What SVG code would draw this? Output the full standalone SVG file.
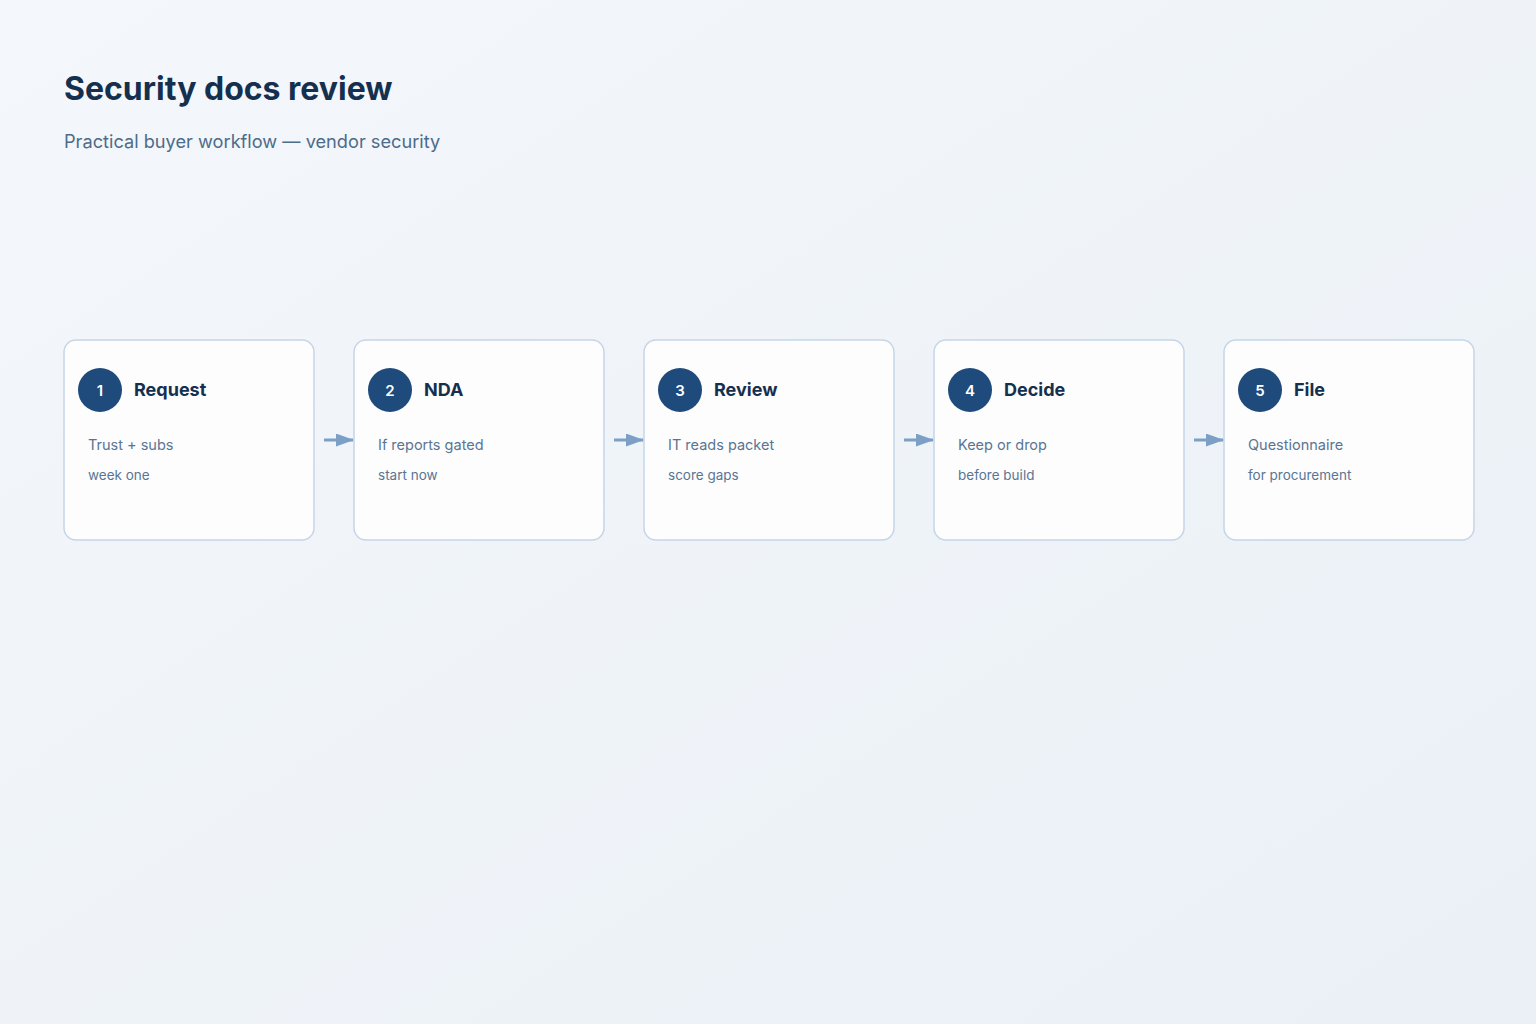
<svg xmlns="http://www.w3.org/2000/svg" width="1536" height="1024" viewBox="0 0 1536 1024">
<defs>
<linearGradient id="bg" x1="0" y1="0" x2="1" y2="1">
<stop offset="0" stop-color="#f4f7fb"/>
<stop offset="1" stop-color="#eaf0f6"/>
</linearGradient>
<marker id="ah" viewBox="0 0 18 13" refX="17" refY="6.5" markerWidth="18" markerHeight="13" markerUnits="userSpaceOnUse" orient="auto">
<path d="M0,0 L18,6.5 L0,13 z" fill="#7b9fc5"/>
</marker>
<style>
.card{fill:#fdfdfe;stroke:#c5d5e8;stroke-width:1.5}
.badge{fill:#1e4a7c}
.num{font-family:Inter,"Liberation Sans",sans-serif;font-size:15px;font-weight:600;fill:#ffffff;text-anchor:middle}
.ttl{font-family:Inter,"Liberation Sans",sans-serif;font-size:18px;font-weight:700;fill:#15304f}
.l1{font-family:Inter,"Liberation Sans",sans-serif;font-size:14.5px;fill:#5a7593}
.l2{font-family:Inter,"Liberation Sans",sans-serif;font-size:13.5px;fill:#5a7593}
.conn{stroke:#7b9fc5;stroke-width:3;fill:none}
</style>
</defs>
<rect width="1536" height="1024" fill="url(#bg)"/>
<text x="64" y="100" font-family="Inter,'Liberation Sans',sans-serif" font-size="32" font-weight="700" fill="#15304f">Security docs review</text>
<text x="64" y="148" font-family="Inter,'Liberation Sans',sans-serif" font-size="18.2" fill="#4d6b8a">Practical buyer workflow — vendor security</text>
<g id="n1">
<rect class="card" x="64" y="340" width="250" height="200" rx="12"/>
<circle class="badge" cx="100" cy="390" r="22"/>
<text class="num" x="100" y="395.5">1</text>
<text class="ttl" x="134" y="396">Request</text>
<text class="l1" x="88" y="450">Trust + subs</text>
<text class="l2" x="88" y="480">week one</text>
</g>
<g id="n2">
<rect class="card" x="354" y="340" width="250" height="200" rx="12"/>
<circle class="badge" cx="390" cy="390" r="22"/>
<text class="num" x="390" y="395.5">2</text>
<text class="ttl" x="424" y="396">NDA</text>
<text class="l1" x="378" y="450">If reports gated</text>
<text class="l2" x="378" y="480">start now</text>
</g>
<g id="n3">
<rect class="card" x="644" y="340" width="250" height="200" rx="12"/>
<circle class="badge" cx="680" cy="390" r="22"/>
<text class="num" x="680" y="395.5">3</text>
<text class="ttl" x="714" y="396">Review</text>
<text class="l1" x="668" y="450">IT reads packet</text>
<text class="l2" x="668" y="480">score gaps</text>
</g>
<g id="n4">
<rect class="card" x="934" y="340" width="250" height="200" rx="12"/>
<circle class="badge" cx="970" cy="390" r="22"/>
<text class="num" x="970" y="395.5">4</text>
<text class="ttl" x="1004" y="396">Decide</text>
<text class="l1" x="958" y="450">Keep or drop</text>
<text class="l2" x="958" y="480">before build</text>
</g>
<g id="n5">
<rect class="card" x="1224" y="340" width="250" height="200" rx="12"/>
<circle class="badge" cx="1260" cy="390" r="22"/>
<text class="num" x="1260" y="395.5">5</text>
<text class="ttl" x="1294" y="396">File</text>
<text class="l1" x="1248" y="450">Questionnaire</text>
<text class="l2" x="1248" y="480">for procurement</text>
</g>
<g id="connectors">
<line class="conn" x1="324" y1="440" x2="353" y2="440" marker-end="url(#ah)"/>
<line class="conn" x1="614" y1="440" x2="643" y2="440" marker-end="url(#ah)"/>
<line class="conn" x1="904" y1="440" x2="933" y2="440" marker-end="url(#ah)"/>
<line class="conn" x1="1194" y1="440" x2="1223" y2="440" marker-end="url(#ah)"/>
</g>
</svg>
